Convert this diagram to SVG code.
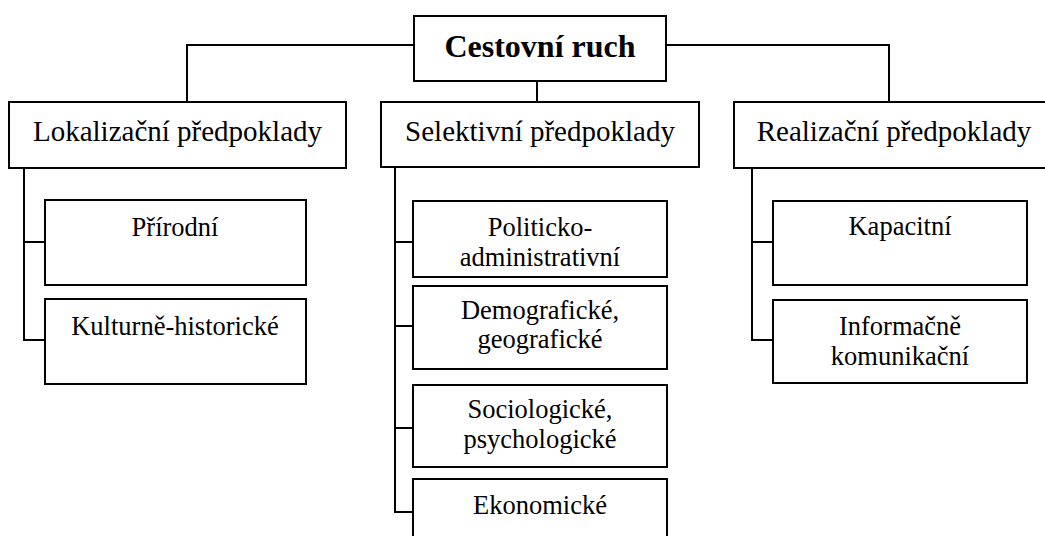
<svg xmlns="http://www.w3.org/2000/svg" width="1045" height="536" viewBox="0 0 1045 536">
<style>
.box{fill:#fff;stroke:#000;stroke-width:2}
.ln{fill:none;stroke:#000;stroke-width:2}
text{fill:#000;text-anchor:middle}
.root{font-size:32px;font-weight:bold}
.l1{font-size:29px}
.l2{font-size:26.5px}
</style>
<rect width="1045" height="536" fill="#fff"/>
<g id="connectors">
<path class="ln" d="M414,45 H187 V102"/>
<path class="ln" d="M666,45 H889 V102"/>
<path class="ln" d="M537,81 V102"/>
<path class="ln" d="M24,168 V340 H45 M24,242 H45"/>
<path class="ln" d="M395,167 V512 H413 M395,242 H413 M395,326 H413 M395,428 H413"/>
<path class="ln" d="M752,168 V340 H773 M752,242 H773"/>
</g>
<g font-family="Liberation Serif, Times New Roman, DejaVu Serif, serif">
<g id="root">
<rect class="box" x="414" y="16" width="252" height="65"/>
<text class="root" x="540" y="57">Cestovní ruch</text>
</g>
<g id="lokalizacni">
<rect class="box" x="9" y="102" width="337" height="66"/>
<text class="l1" x="177.5" y="141">Lokalizační předpoklady</text>
</g>
<g id="selektivni">
<rect class="box" x="381" y="102" width="318" height="65"/>
<text class="l1" x="540" y="141">Selektivní předpoklady</text>
</g>
<g id="realizacni">
<rect class="box" x="734" y="102" width="320" height="66"/>
<text class="l1" x="894" y="141">Realizační předpoklady</text>
</g>
<g id="prirodni">
<rect class="box" x="45" y="200" width="261" height="85"/>
<text class="l2" x="175" y="236">Přírodní</text>
</g>
<g id="kulturne">
<rect class="box" x="45" y="299" width="261" height="85"/>
<text class="l2" x="175" y="335">Kulturně-historické</text>
</g>
<g id="politicko">
<rect class="box" x="413" y="201" width="254" height="76"/>
<text class="l2" x="540" y="236">Politicko-</text>
<text class="l2" x="540" y="266">administrativní</text>
</g>
<g id="demograficke">
<rect class="box" x="413" y="286" width="254" height="83"/>
<text class="l2" x="540" y="319">Demografické,</text>
<text class="l2" x="540" y="348">geografické</text>
</g>
<g id="sociologicke">
<rect class="box" x="413" y="385" width="254" height="82"/>
<text class="l2" x="540" y="418">Sociologické,</text>
<text class="l2" x="540" y="448">psychologické</text>
</g>
<g id="ekonomicke">
<rect class="box" x="413" y="479" width="254" height="84"/>
<text class="l2" x="540" y="514">Ekonomické</text>
</g>
<g id="kapacitni">
<rect class="box" x="773" y="201" width="254" height="84"/>
<text class="l2" x="900" y="235">Kapacitní</text>
</g>
<g id="informacne">
<rect class="box" x="773" y="300" width="254" height="83"/>
<text class="l2" x="900" y="335">Informačně</text>
<text class="l2" x="900" y="365">komunikační</text>
</g>
</g>
</svg>
